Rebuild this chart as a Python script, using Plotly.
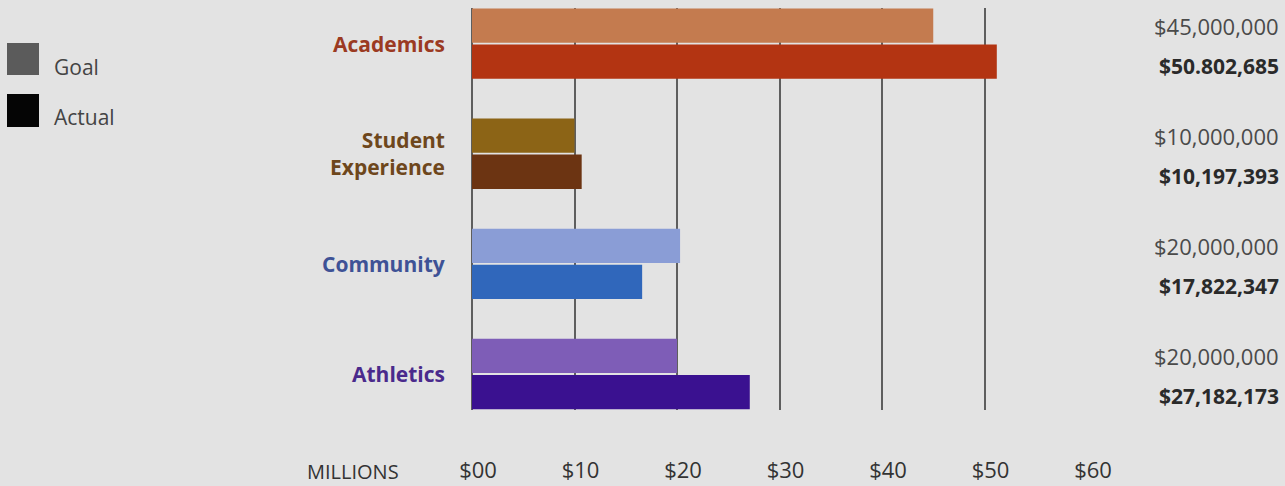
import plotly.graph_objects as go

categories = ["Academics", "Student<br>Experience", "Community", "Athletics"]
goal_millions = [45.0, 10.0, 20.3, 20.0]
actual_millions = [51.2, 10.7, 16.6, 27.1]
goal_labels = ["$45,000,000", "$10,000,000", "$20,000,000", "$20,000,000"]
actual_labels = ["$50.802,685", "$10,197,393", "$17,822,347", "$27,182,173"]
goal_colors = ["#c47b4f", "#8c6416", "#8a9dd6", "#7e5db7"]
actual_colors = ["#b33412", "#6c3412", "#3067bb", "#3a1190"]
label_colors = ["#9b3a22", "#6e471c", "#3e5296", "#4a2a8c"]
tick_values = [0, 10, 20, 30, 40, 50, 60]
tick_text = ["$00", "$10", "$20", "$30", "$40", "$50", "$60"]

FONT = "Open Sans"
BG = "#e3e3e3"
ypos = list(range(len(categories)))

fig = go.Figure()
fig.add_trace(go.Bar(name="Goal", y=ypos, x=goal_millions, orientation="h",
                     marker=dict(color=goal_colors, line=dict(width=0)), showlegend=False))
fig.add_trace(go.Bar(name="Actual", y=ypos, x=actual_millions, orientation="h",
                     marker=dict(color=actual_colors, line=dict(width=0)), showlegend=False))

annotations = []
for i, cat in enumerate(categories):
    annotations.append(dict(x=0, xref="paper", y=i, yref="y", text=f"<b>{cat}</b>",
                            xanchor="right", yanchor="middle", align="right", xshift=-25,
                            showarrow=False, font=dict(family=FONT, size=21, color=label_colors[i])))
    annotations.append(dict(x=1, xref="paper", y=i, yref="y", text=goal_labels[i],
                            xanchor="right", yanchor="middle", xshift=194, yshift=18,
                            showarrow=False, font=dict(family=FONT, size=22, color="#4a4a4a")))
    annotations.append(dict(x=1, xref="paper", y=i, yref="y", text=f"<b>{actual_labels[i]}</b>",
                            xanchor="right", yanchor="middle", xshift=194, yshift=-22,
                            showarrow=False, font=dict(family=FONT, size=21, color="#2a2a2a")))

annotations.append(dict(x=0, xref="paper", y=0, yref="paper", text="MILLIONS",
                        xanchor="center", yanchor="middle", xshift=-119, yshift=-61,
                        showarrow=False, font=dict(family=FONT, size=20, color="#333333")))
annotations.append(dict(x=0, xref="paper", y=1, yref="paper", text="Goal",
                        xanchor="left", yanchor="middle", xshift=-420, yshift=-59,
                        showarrow=False, font=dict(family=FONT, size=21, color="#444444")))
annotations.append(dict(x=0, xref="paper", y=1, yref="paper", text="Actual",
                        xanchor="left", yanchor="middle", xshift=-420, yshift=-109,
                        showarrow=False, font=dict(family=FONT, size=21, color="#444444")))

shapes = [
    dict(type="rect", xref="paper", yref="paper", xsizemode="pixel", ysizemode="pixel",
         xanchor=0, yanchor=1, x0=-465, x1=-433, y0=-67, y1=-35,
         fillcolor="#5b5b5b", line=dict(width=0)),
    dict(type="rect", xref="paper", yref="paper", xsizemode="pixel", ysizemode="pixel",
         xanchor=0, yanchor=1, x0=-465, x1=-433, y0=-119, y1=-86,
         fillcolor="#050505", line=dict(width=0)),
]

fig.update_layout(
    width=1285, height=486,
    margin=dict(l=472, r=198, t=8, b=76, pad=0, autoexpand=False),
    paper_bgcolor=BG, plot_bgcolor=BG,
    barmode="group", bargap=0.345, bargroupgap=0.05,
    annotations=annotations, shapes=shapes,
    font=dict(family=FONT, color="#333333"),
)
fig.update_xaxes(range=[0, 60], tickvals=tick_values, ticktext=tick_text,
                 showgrid=True, gridcolor="#5e5e5e", gridwidth=1.5,
                 zeroline=True, zerolinecolor="#5e5e5e", zerolinewidth=1.5,
                 showline=False, ticks="", ticklabelshift=6, ticklabelstandoff=45,
                 automargin=False,
                 tickfont=dict(family=FONT, size=22, color="#333333"), fixedrange=True)
fig.update_yaxes(range=[3.327, -0.323], showgrid=False, zeroline=False, automargin=False,
                 showticklabels=False, showline=False, ticks="", fixedrange=True)

fig.write_html("out.html")
